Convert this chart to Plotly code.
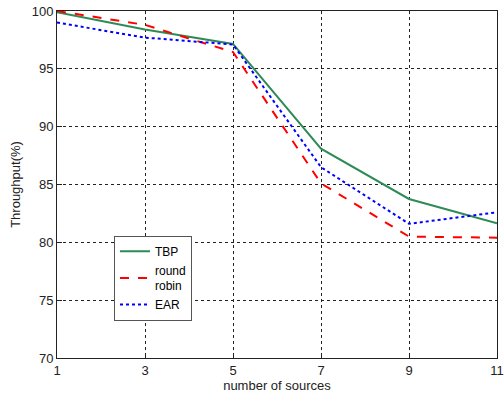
import plotly.graph_objects as go

x_sources = [1, 3, 5, 7, 9, 11]
tbp = [99.9, 98.4, 97.15, 88.1, 83.75, 81.65]
round_robin = [100.0, 98.8, 96.45, 85.1, 80.5, 80.4]
ear = [99.0, 97.7, 97.1, 86.5, 81.6, 82.6]
x_ticks = [1, 3, 5, 7, 9, 11]
y_ticks = [70, 75, 80, 85, 90, 95, 100]

FONT = "Liberation Sans, Arial"

fig = go.Figure()
fig.add_trace(go.Scatter(x=x_sources, y=tbp, mode="lines", name="TBP",
                         line=dict(color="#2e8b57", width=2, dash="solid")))
fig.add_trace(go.Scatter(x=x_sources, y=round_robin, mode="lines", name="round<br>robin",
                         line=dict(color="#ff0000", width=2, dash="dash")))
fig.add_trace(go.Scatter(x=x_sources, y=ear, mode="lines", name="EAR",
                         line=dict(color="#0000ff", width=2, dash="dot")))

axis_common = dict(showline=True, linecolor="#222", linewidth=1, mirror=True,
                   showgrid=True, gridcolor="#222", gridwidth=1, griddash="3px,3px",
                   ticks="inside", ticklen=5, tickcolor="#222", zeroline=False,
                   automargin=False, ticklabeloverflow="allow",
                   tickfont=dict(family=FONT, size=13, color="#222"))

fig.update_xaxes(range=[1, 11], tickvals=x_ticks, ticktext=[str(v) for v in x_ticks],
                 title=dict(text="number of sources", standoff=4,
                            font=dict(family=FONT, size=13, color="#222")),
                 **axis_common)
fig.update_yaxes(range=[70, 100], tickvals=y_ticks, ticktext=[str(v) for v in y_ticks],
                 title=dict(text="Throughput(%)", standoff=8,
                            font=dict(family=FONT, size=13, color="#222")),
                 **axis_common)

fig.update_layout(
    width=504, height=399,
    margin=dict(l=57, r=7, t=11, b=41),
    paper_bgcolor="white", plot_bgcolor="white",
    showlegend=True,
    legend=dict(x=0.1295, y=0.352, xanchor="left", yanchor="top",
                bgcolor="white", bordercolor="#555555", borderwidth=1,
                font=dict(family=FONT, size=12, color="black"),
                tracegroupgap=0, itemwidth=30, entrywidth=93, entrywidthmode="pixels"),
)

fig.write_html("out.html", config={"displayModeBar": False},
               post_script="document.body.style.margin='0';document.body.style.padding='0';")
